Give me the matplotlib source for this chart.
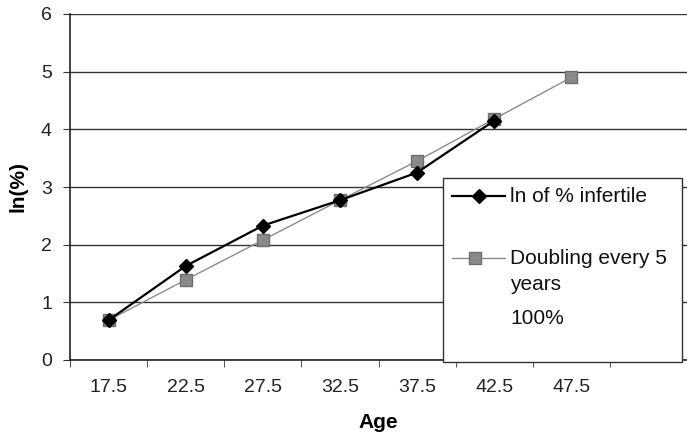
import matplotlib
matplotlib.use("Agg")
import matplotlib.pyplot as plt
from matplotlib.lines import Line2D
from matplotlib.patches import Rectangle

# categories (last slot is empty, as in the original Excel chart)
ages = ['17.5', '22.5', '27.5', '32.5', '37.5', '42.5', '47.5', '']
ln_infertile = [0.69, 1.63, 2.33, 2.77, 3.25, 4.15]
doubling = [0.69, 1.39, 2.08, 2.77, 3.45, 4.18, 4.90]

plt.rcParams['font.family'] = ['Liberation Sans', 'DejaVu Sans']

fig = plt.figure(figsize=(6.87, 4.37), dpi=100)
ax = fig.add_axes([70 / 687, 1 - 360 / 437, 1 - 70 / 687, (360 - 14) / 437])

x_inf = list(range(len(ln_infertile)))
x_dbl = list(range(len(doubling)))

ax.plot(x_dbl, doubling, color='#8c8c8c', lw=1.0, marker='s', ms=9,
        mfc='#8a8a8a', mec='#6e6e6e', zorder=3)
ax.plot(x_inf, ln_infertile, color='black', lw=1.6, marker='D', ms=7,
        mfc='black', mec='black', zorder=4)

ax.set_xlim(-0.5, len(ages) - 0.5)
ax.set_ylim(0, 6)
ax.set_yticks(range(0, 7))
ax.set_xticks(range(len(ages)))
ax.set_xticklabels(ages)
ax.set_xticks([i - 0.5 for i in range(len(ages) + 1)], minor=True)
ax.tick_params(axis='x', which='major', length=0, pad=14, labelsize=14, labelcolor='#222222')
ax.tick_params(axis='x', which='minor', length=5, direction='out', color='#333333')
ax.tick_params(axis='y', length=5, direction='out', labelsize=14, pad=8,
               color='#333333', labelcolor='#222222')

ax.grid(axis='y', color='#333333', lw=1.0)
ax.set_axisbelow(True)
for s in ['top', 'right']:
    ax.spines[s].set_visible(False)
for s in ['left', 'bottom']:
    ax.spines[s].set_color('#222222')
    ax.spines[s].set_linewidth(1.2)

ax.set_ylabel('ln(%)', fontsize=15, fontweight='bold', labelpad=10)
ax.set_xlabel('Age', fontsize=15, fontweight='bold', labelpad=12)

# legend box drawn like the Excel one
W, H = 687, 437
fig.add_artist(Rectangle((443 / W, 1 - 362 / H), (682 - 443) / W, (362 - 178) / H,
                         transform=fig.transFigure, facecolor='white',
                         edgecolor='#333333', lw=1.0, zorder=5))
fig.add_artist(Line2D([452 / W, 479 / W, 505 / W], [1 - 196 / H] * 3, color='black',
                      lw=1.6, marker='D', ms=7, markevery=[1], zorder=6))
fig.add_artist(Line2D([452 / W, 475 / W, 505 / W], [1 - 258 / H] * 3, color='#8c8c8c',
                      lw=1.0, marker='s', ms=9, mfc='#8a8a8a', mec='#6e6e6e',
                      markevery=[1], zorder=6))
kw = dict(fontsize=15, va='center', color='#111111', zorder=7)
fig.text(510 / W, 1 - 196 / H, 'ln of % infertile', **kw)
fig.text(510 / W, 1 - 258 / H, 'Doubling every 5', **kw)
fig.text(510 / W, 1 - 284 / H, 'years', **kw)
fig.text(510 / W, 1 - 318 / H, '100%', **kw)

fig.savefig('out.png', dpi=100)
